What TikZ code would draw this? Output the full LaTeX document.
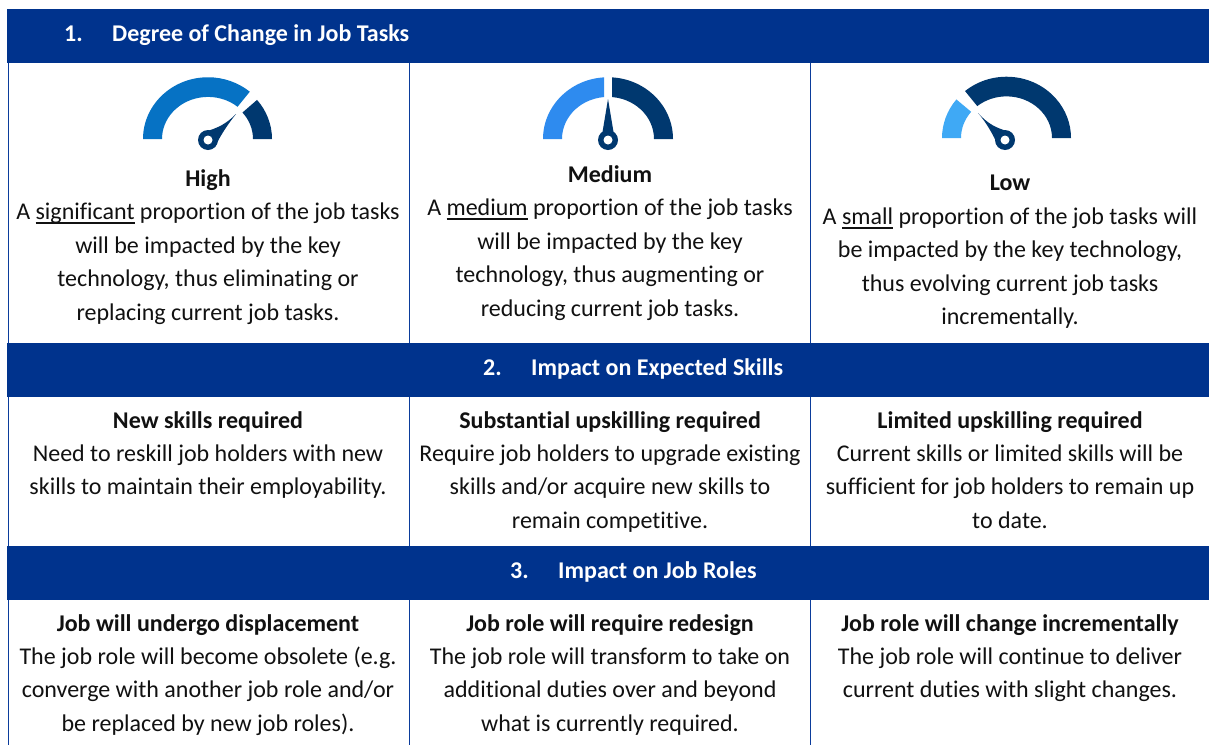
\documentclass[tikz,border=0pt]{standalone}
\usepackage{fontspec}
\setmainfont{Carlito}[Ligatures=NoCommon]
\definecolor{banner}{HTML}{00338D}
\definecolor{gmid}{HTML}{0672C4}
\definecolor{gdark}{HTML}{00386F}
\definecolor{gbright}{HTML}{2E8BEF}
\definecolor{glight}{HTML}{3FA9F5}
\definecolor{gridline}{HTML}{0B3C9B}
\definecolor{bodytext}{HTML}{111111}
\tikzset{
  x=1pt,y=-1pt,
  bannerbox/.style={fill=banner,draw=none,inner sep=0pt,minimum height=54pt,minimum width=1202pt,anchor=north west},
  bannertext/.style={text=white,font=\fontsize{24}{26}\selectfont\bfseries,anchor=base,inner sep=0pt},
  cell/.style={text=bodytext,font=\fontsize{24}{33.45}\selectfont,align=center,anchor=north,inner sep=0pt},
  gridrule/.style={draw=gridline,line width=1pt},
}
\newcommand{\ulw}[1]{\setbox0\hbox{#1}\rlap{\rule[-4.2pt]{\wd0}{1.4pt}}#1}
\newcommand{\gaugehub}[2]{%
  \fill[gdark] (#1,#2) circle[radius=10pt];
  \fill[white] (#1,#2) circle[radius=4.5pt];
}
% color, cx, cy, Rx, rx, a1, a2; outer y radius = .95 Rx, inner y radius = .915 rx
\newcommand{\bandsector}[7]{%
  \fill[#1] ({#2+#4*cos(#6)},{#3-.95*#4*sin(#6)})
    arc[start angle=#6,end angle=#7,x radius=#4pt,y radius=.95*#4pt]
    -- ({#2+#5*cos(#7)},{#3-.915*#5*sin(#7)})
    arc[start angle=#7,end angle=#6,x radius=#5pt,y radius=.915*#5pt] -- cycle;
}
\begin{document}
\begin{tikzpicture}
\useasboundingbox[fill=white] (0,0) rectangle (1209,745);
% banners
\node[bannerbox] (b1) at (7,9) {};
\node[bannerbox] (b2) at (7,343) {};
\node[bannerbox] (b3) at (7,546) {};
\node[bannertext,anchor=base west] (b1t) at (64,41) {\makebox[48pt][l]{1.}Degree of Change in Job Tasks};
\node[bannertext,anchor=base west] (b2t) at (483,375) {\makebox[48pt][l]{2.}Impact on Expected Skills};
\node[bannertext,anchor=base west] (b3t) at (510,578) {\makebox[48pt][l]{3.}Impact on Job Roles};
% grid
\foreach \xx in {8,409,810}{
  \draw[gridrule] (\xx,63) -- (\xx,343);
  \draw[gridrule] (\xx,397) -- (\xx,546);
  \draw[gridrule] (\xx,600) -- (\xx,745);
}
% gauge 1
\bandsector{gmid}{208}{139}{65}{46}{180}{50}
\bandsector{gdark}{208}{139}{64}{45}{40}{0}
\fill[gdark] (236,114) .. controls (226,124) and (218,128) .. (204,132) -- (215,147) .. controls (220,136) and (228,124) .. cycle;
\gaugehub{208}{140}
% gauge 2
\begin{scope}
\clip (530,70) rectangle (604,139);
\bandsector{gbright}{608}{139}{65}{46}{180}{90}
\end{scope}
\begin{scope}
\clip (612,70) rectangle (690,139);
\bandsector{gdark}{608}{139}{65}{46}{90}{0}
\end{scope}
\fill[gdark] (608,99) -- (602,135) -- (614,135) -- cycle;
\gaugehub{608}{140}
% gauge 3
\bandsector{glight}{1006.5}{138}{64.5}{45.5}{180}{141}
\bandsector{gdark}{1006.5}{138}{64.5}{45.5}{130}{0}
\fill[gdark] (978,113) .. controls (988,124) and (996,128) .. (1010,132) -- (998,146) .. controls (994,136) and (986,122) .. cycle;
\gaugehub{1005}{140}
% row 1
\node[cell] (c11) at (208,169.2) {\textbf{High}\\A \ulw{significant} proportion of the job tasks\\will be impacted by the key\\technology, thus eliminating or\\replacing current job tasks.};
\node[cell] (c12) at (610,165.2) {\textbf{Medium}\\A \ulw{medium} proportion of the job tasks\\will be impacted by the key\\technology, thus augmenting or\\reducing current job tasks.};
\node[cell] (c13) at (1010,175.2) {\textbf{Low}\\A \ulw{small} proportion of the job tasks will\\be impacted by the key technology,\\thus evolving current job tasks\\incrementally.};
% row 2
\node[cell] (c21) at (208,411) {\textbf{New skills required}\\Need to reskill job holders with new\\skills to maintain their employability.};
\node[cell] (c22) at (610,411) {\textbf{Substantial upskilling required}\\Require job holders to upgrade existing\\skills and/or acquire new skills to\\remain competitive.};
\node[cell] (c23) at (1010,411) {\textbf{Limited upskilling required}\\Current skills or limited skills will be\\sufficient for job holders to remain up\\to date.};
% row 3
\node[cell] (c31) at (208,614) {\textbf{Job will undergo displacement}\\The job role will become obsolete (e.g.\\converge with another job role and/or\\be replaced by new job roles).};
\node[cell] (c32) at (610,614) {\textbf{Job role will require redesign}\\The job role will transform to take on\\additional duties over and beyond\\what is currently required.};
\node[cell] (c33) at (1010,614) {\textbf{Job role will change incrementally}\\The job role will continue to deliver\\current duties with slight changes.};
\end{tikzpicture}
\end{document}
